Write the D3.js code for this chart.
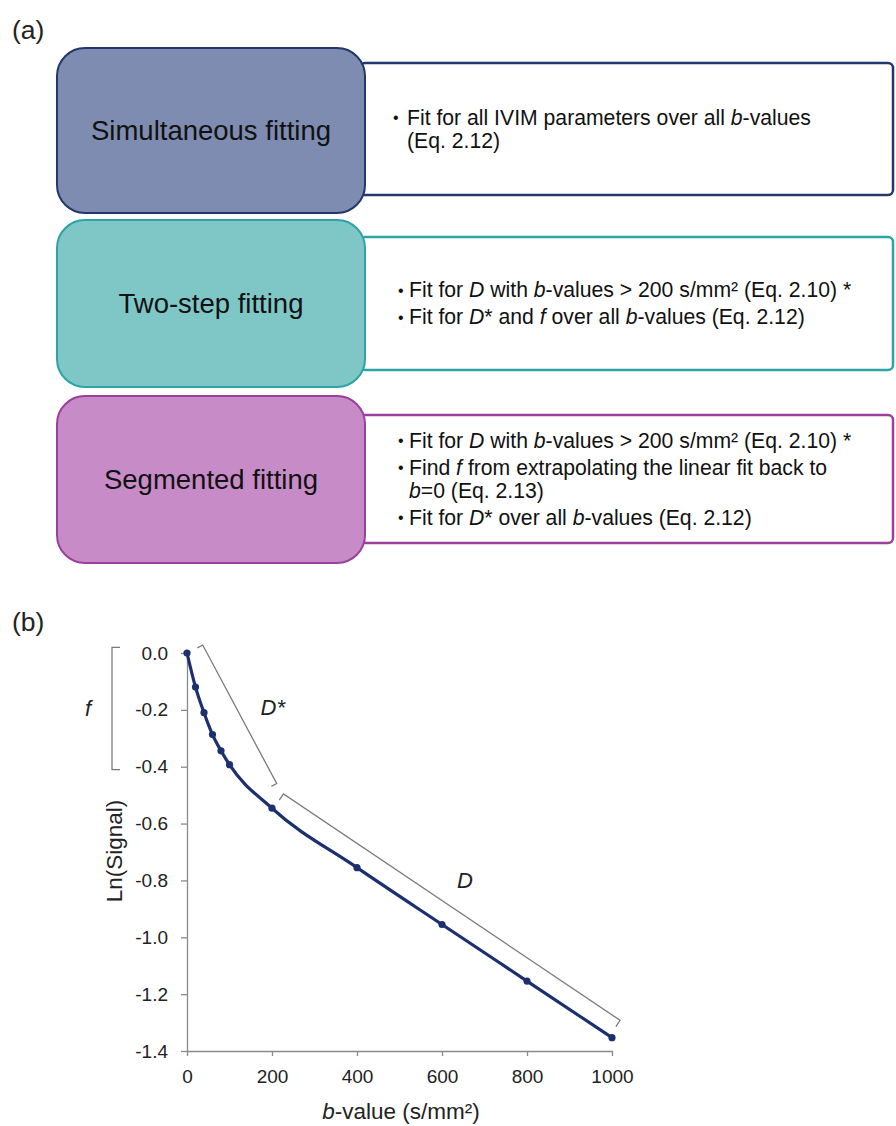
<!DOCTYPE html>
<html>
<head>
<meta charset="utf-8">
<script src="https://cdn.jsdelivr.net/npm/d3@7"></script>
<style>
body{margin:0;background:#fff}
svg{display:block;font-family:"Liberation Sans",Arial,Helvetica,sans-serif}
text{white-space:pre}
</style>
</head>
<body>
<script>
// ---- panel (a): fitting methods, text with _italic_ parts
var methods = ["Simultaneous fitting", "Two-step fitting", "Segmented fitting"];
var steps = [
  [["Fit for all IVIM parameters over all _b_-values", "(Eq. 2.12)"]],
  [["Fit for _D_ with _b_-values > 200 s/mm² (Eq. 2.10) *"],
   ["Fit for _D_* and _f_ over all _b_-values (Eq. 2.12)"]],
  [["Fit for _D_ with _b_-values > 200 s/mm² (Eq. 2.10) *"],
   ["Find _f_ from extrapolating the linear fit back to", "_b_=0 (Eq. 2.13)"],
   ["Fit for _D_* over all _b_-values (Eq. 2.12)"]]
];

// ---- panel (b): ln(signal) vs b-value
var bValues = [0, 20, 40, 60, 80, 100, 200, 400, 600, 800, 1000];
var lnSignal = [0, -0.12, -0.21, -0.287, -0.344, -0.393, -0.546, -0.755, -0.955, -1.154, -1.353];
var xTicks = [0, 200, 400, 600, 800, 1000];
var yTicks = [0, -0.2, -0.4, -0.6, -0.8, -1.0, -1.2, -1.4];

// brackets drawn in data units (b, ln signal)
var bracketNames = ["D*", "D"];
var bracketStart = [[37, 0.028], [227, -0.496]];
var bracketEnd = [[211, -0.459], [1019, -1.292]];
var bracketLabel = [[202, -0.19], [654, -0.80]];
var fRange = [0.02, -0.41];

// styles
var fills = ["#7d8cb0", "#7fc7c7", "#c78cc7"];
var strokes = ["#22386b", "#2ea3a3", "#9c3f9c"];
var lineCol = "#1c2f6e";

var W = 896, H = 1126;
var svg = d3.select("body").append("svg").attr("width", W).attr("height", H);

function rich(sel, str) {
  str.split("_").forEach(function(p, i) {
    if (p) sel.append("tspan").style("font-style", i % 2 ? "italic" : "normal").text(p);
  });
}

// panel labels
svg.append("text").attr("x", 12).attr("y", 39).attr("font-size", 26.5).attr("fill", "#222").text("(a)");
svg.append("text").attr("x", 12).attr("y", 631).attr("font-size", 26.5).attr("fill", "#222").text("(b)");

// box layout
var leftTop = [48, 220, 396], leftBot = [213, 387, 563];
var rightTop = [63, 237, 415], rightBot = [195, 370, 543];
var bulletX = [393, 398, 398], textX = [407, 409, 409];

methods.forEach(function(m, i) {
  var g = svg.append("g");
  // white description box (sits behind the rounded box)
  g.append("rect")
    .attr("x", 360).attr("y", rightTop[i])
    .attr("width", 893 - 360).attr("height", rightBot[i] - rightTop[i])
    .attr("rx", 5)
    .attr("fill", "#fff").attr("stroke", strokes[i]).attr("stroke-width", 2.5);
  g.append("rect")
    .attr("x", 57).attr("y", leftTop[i])
    .attr("width", 365 - 57).attr("height", leftBot[i] - leftTop[i])
    .attr("rx", 28)
    .attr("fill", fills[i]).attr("stroke", strokes[i]).attr("stroke-width", 2);
  g.append("text")
    .attr("x", 211).attr("y", (leftTop[i] + leftBot[i]) / 2).attr("dy", "0.35em")
    .attr("text-anchor", "middle").attr("font-size", 27.5).attr("fill", "#111")
    .text(m);

  // bullet lines: 23px within a bullet, 27px between bullets
  var rows = [];
  var yy = 0;
  steps[i].forEach(function(bullet, bi) {
    if (bi > 0) yy += 27;
    bullet.forEach(function(line, li) {
      if (li > 0) yy += 23;
      rows.push({y: yy, line: line, first: li === 0});
    });
  });
  var cy = (rightTop[i] + rightBot[i]) / 2 - yy / 2;
  rows.forEach(function(r) {
    if (r.first) {
      g.append("text").attr("x", bulletX[i]).attr("y", cy + r.y).attr("dy", "0.35em")
        .attr("font-size", 16).attr("fill", "#111").text("•");
    }
    var t = g.append("text").attr("x", textX[i]).attr("y", cy + r.y).attr("dy", "0.35em")
      .attr("font-size", 21.2).attr("fill", "#111");
    rich(t, r.line);
  });
});

// ---- chart
var x = d3.scaleLinear().domain([0, 1000]).range([187, 612]);
var y = d3.scaleLinear().domain([-1.4, 0]).range([1051, 653]);

var xAxis = svg.append("g")
  .attr("transform", "translate(0," + y(-1.4) + ")")
  .call(d3.axisBottom(x).tickValues(xTicks).tickFormat(function(d) { return String(d); })
    .tickSize(5).tickSizeOuter(0).tickPadding(14));
var yAxis = svg.append("g")
  .attr("transform", "translate(" + x(0) + ",0)")
  .call(d3.axisLeft(y).tickValues(yTicks).tickFormat(function(d) { return d.toFixed(1); })
    .tickSize(6).tickSizeOuter(0).tickPadding(13));
[xAxis, yAxis].forEach(function(a) {
  a.attr("font-family", null).attr("font-size", 19);
  a.selectAll("path,line").attr("stroke", "#8a8a8a").attr("stroke-width", 1.3);
  a.selectAll("text").attr("fill", "#222");
});

var pts = bValues.map(function(b, i) { return {b: b, v: lnSignal[i]}; });
var line = d3.line().x(function(d) { return x(d.b); }).y(function(d) { return y(d.v); })
  .curve(d3.curveMonotoneX);
svg.append("path").datum(pts).attr("d", line)
  .attr("fill", "none").attr("stroke", lineCol).attr("stroke-width", 3.2);
svg.selectAll("circle.pt").data(pts).enter().append("circle").attr("class", "pt")
  .attr("cx", function(d) { return x(d.b); }).attr("cy", function(d) { return y(d.v); })
  .attr("r", 3.6).attr("fill", lineCol);

// D* and D brackets with small hooks pointing toward the curve
bracketNames.forEach(function(name, i) {
  var x1 = x(bracketStart[i][0]), y1 = y(bracketStart[i][1]);
  var x2 = x(bracketEnd[i][0]), y2 = y(bracketEnd[i][1]);
  var len = Math.hypot(x2 - x1, y2 - y1);
  var nx = -(y2 - y1) / len, ny = (x2 - x1) / len;
  var h = i === 0 ? 6 : 7.5;
  svg.append("path")
    .attr("d", "M" + (x1 + nx * h) + "," + (y1 + ny * h) + "L" + x1 + "," + y1 +
      "L" + x2 + "," + y2 + "L" + (x2 + nx * h) + "," + (y2 + ny * h))
    .attr("fill", "none").attr("stroke", "#7a7a7a").attr("stroke-width", 1.3);
  svg.append("text")
    .attr("x", x(bracketLabel[i][0])).attr("y", y(bracketLabel[i][1])).attr("dy", "0.35em")
    .attr("text-anchor", "middle").attr("font-size", 22).attr("font-style", "italic")
    .attr("fill", "#222").text(name);
});

// f bracket left of the axis
var fx = x(0) - 75;
svg.append("path")
  .attr("d", "M" + (fx + 8) + "," + y(fRange[0]) + "H" + fx + "V" + y(fRange[1]) + "H" + (fx + 8))
  .attr("fill", "none").attr("stroke", "#7a7a7a").attr("stroke-width", 1.3);
svg.append("text")
  .attr("x", fx - 24).attr("y", y((fRange[0] + fRange[1]) / 2)).attr("dy", "0.35em")
  .attr("text-anchor", "middle").attr("font-size", 22).attr("font-style", "italic")
  .attr("fill", "#222").text("f");

// axis titles
var xt = svg.append("text").attr("x", 401).attr("y", 1119)
  .attr("text-anchor", "middle").attr("font-size", 22.5).attr("fill", "#222");
rich(xt, "_b_-value (s/mm²)");
svg.append("text")
  .attr("transform", "translate(122,851) rotate(-90)")
  .attr("text-anchor", "middle").attr("font-size", 22.5).attr("fill", "#222")
  .text("Ln(Signal)");
</script>
</body>
</html>
